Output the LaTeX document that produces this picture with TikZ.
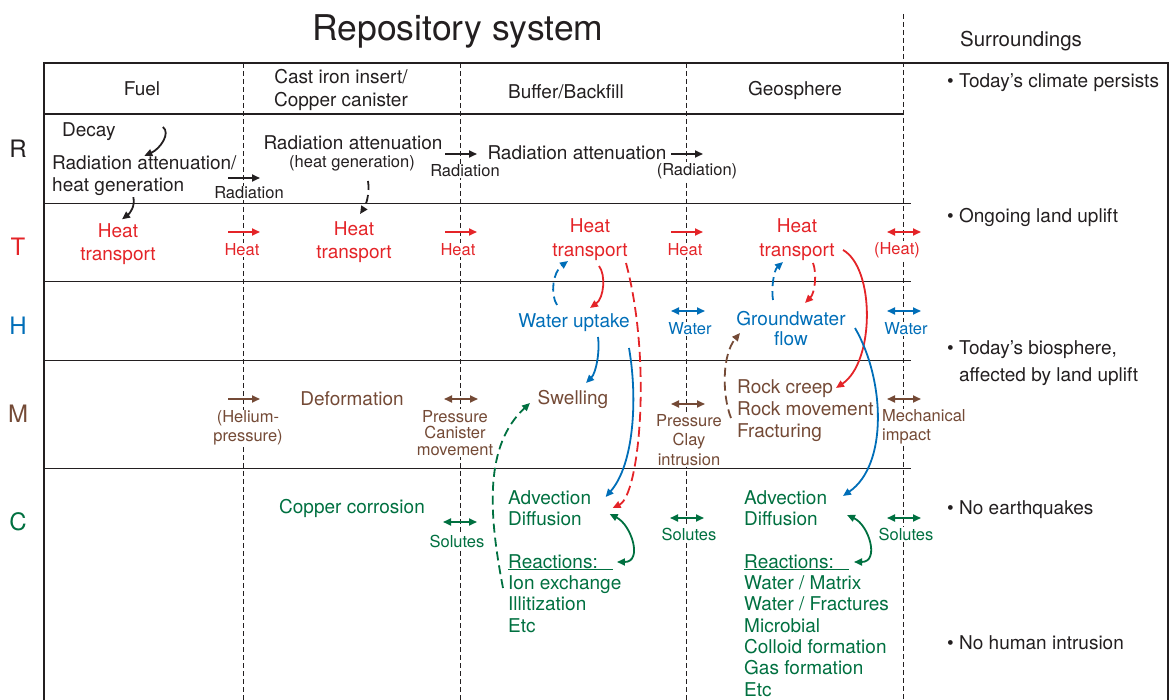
\documentclass[tikz,border=0pt]{standalone}
\usepackage{fontspec}
\setmainfont{TeX Gyre Heros}
\usetikzlibrary{arrows.meta,calc}

\definecolor{rot}{RGB}{228,36,40}
\definecolor{blau}{RGB}{0,110,184}
\definecolor{braun}{RGB}{116,74,54}
\definecolor{gruen}{RGB}{0,112,64}
\definecolor{tinte}{RGB}{35,31,32}

\tikzset{
  txt/.style={inner sep=0pt,align=center,font=\fontsize{19}{22}\selectfont},
  klein/.style={inner sep=1pt,fill=white,align=center,font=\fontsize{16.5}{17}\selectfont},
  zeile/.style={inner sep=0pt,font=\fontsize{24}{24}\selectfont},
  pf/.style={line width=1.8pt},
  gestr/.style={line width=1.8pt,dash pattern=on 9pt off 5pt},
  strich/.style={line width=.8pt,dash pattern=on 5pt off 3pt},
}

\begin{document}
\begin{tikzpicture}[x=1pt,y=-1pt,color=tinte,>={Triangle[length=8pt,width=7pt]}]
  \useasboundingbox (0,0) rectangle (1171,700);
  % Rahmen
  \draw[line width=1.8pt] (44,700) -- (44,63) -- (1168,63) -- (1168,700);
  \draw[line width=1.8pt] (44,114) -- (903,114);
  \foreach \y in {204,282,361,469} \draw[line width=1pt] (44,\y) -- (911,\y);
  % Spaltengrenzen
  \foreach \x in {243,460,686} \draw[strich] (\x,63) -- (\x,700);
  \draw[strich] (903,14) -- (903,700);
  % Titel
  \node[font=\fontsize{35.5}{35.5}\selectfont,inner sep=0pt] (titel) at (458,31) {Repository system};
  \node[font=\fontsize{20.5}{20.5}\selectfont,inner sep=0pt] (umgebung) at (1021,41) {Surroundings};
  % Kopfzeile
  \node[txt] (fuel) at (142,89) {Fuel};
  \node[txt,font=\fontsize{19}{23}\selectfont] (insert) at (341,90) {Cast iron insert/\\Copper canister};
  \node[txt] (buffer) at (566,92) {Buffer/Backfill};
  \node[txt] (geo) at (795,90) {Geosphere};
  % Zeilen
  \node[zeile] (R) at (18,149) {R};
  \node[zeile,rot] (T) at (18,247) {T};
  \node[zeile,blau] (H) at (18,326) {H};
  \node[zeile,braun] (M) at (18,414) {M};
  \node[zeile,gruen] (C) at (18,522) {C};

  % R
  \node[txt,anchor=west] (decay) at (62,132) {Decay};
  \node[txt,anchor=west,align=left] (strfuel) at (52,176) {Radiation attenuation/\\heat generation};
  \node[txt] (strins) at (353,143) {Radiation attenuation};
  \node[klein] (waerme) at (352,163) {(heat generation)};
  \node[txt] (strbuf) at (577,153) {Radiation attenuation};
  % T
  \node[txt,rot,font=\fontsize{19}{23}\selectfont] (ht1) at (118,244) {Heat\\transport};
  \node[txt,rot,font=\fontsize{19}{23.5}\selectfont] (ht2) at (354,242) {Heat\\transport};
  \node[txt,rot,font=\fontsize{19}{24}\selectfont] (ht3) at (590,240) {Heat\\transport};
  \node[txt,rot,font=\fontsize{19}{24}\selectfont] (ht4) at (797,240) {Heat\\transport};
  % H
  \node[txt,blau] (wasser) at (574,323) {Water uptake};
  \node[txt,blau,font=\fontsize{19}{20}\selectfont] (gw) at (791,329) {Groundwater\\flow};
  % M
  \node[txt,braun] (deform) at (352,399) {Deformation};
  \node[txt,braun] (swell) at (573,399) {Swelling};
  \node[txt,braun,anchor=west,align=left] (rock) at (737,411) {Rock creep\\Rock movement\\Fracturing};
  % C
  \node[txt,gruen] (corr) at (352,508) {Copper corrosion};
  \node[txt,gruen,anchor=west,align=left,font=\fontsize{19}{21.3}\selectfont] (adv3) at (508,508) {Advection\\Diffusion};
  \node[txt,gruen,anchor=west] (rea3) at (508,562) {Reactions:};
  \node[txt,gruen,anchor=west,align=left,font=\fontsize{19}{21.4}\selectfont] (lst3) at (508,604) {Ion exchange\\Illitization\\Etc};
  \node[txt,gruen,anchor=west,align=left,font=\fontsize{19}{21.3}\selectfont] (adv4) at (744,508) {Advection\\Diffusion};
  \node[txt,gruen,anchor=west] (rea4) at (744,562) {Reactions:};
  \node[txt,gruen,anchor=west,align=left,font=\fontsize{19}{21.4}\selectfont] (lst4) at (744,636) {Water / Matrix\\Water / Fractures\\Microbial\\Colloid formation\\Gas formation\\Etc};
  \draw[gruen,line width=1pt] ($(rea3.base west)+(0,1)$) -- ++(105,0);
  \draw[gruen,line width=1pt] ($(rea4.base west)+(0,1)$) -- ++(105,0);
  % Umgebung
  \node[txt,anchor=west,align=left] (u1) at (947,83) {\textbullet\ Today's climate persists};
  \node[txt,anchor=west,align=left] (u2) at (947,217) {\textbullet\ Ongoing land uplift};
  \node[txt,anchor=west,align=left,font=\fontsize{19}{27}\selectfont] (u3) at (947,363) {\textbullet\ Today's biosphere,\\\phantom{\textbullet\ }affected by land uplift};
  \node[txt,anchor=west,align=left] (u4) at (947,510) {\textbullet\ No earthquakes};
  \node[txt,anchor=west,align=left] (u5) at (947,643) {\textbullet\ No human intrusion};

  % Pfeile zwischen den Spalten
  \foreach \n/\x/\y/\c in {a1/244/178/tinte,a2/461/154/tinte,a3/687/154/tinte,a4/244/232/rot,a5/461/232/rot,a6/687/232/rot,a7/244/399/braun}
  {
    \coordinate (\n-l) at (\x-16,\y);
    \coordinate (\n-r) at (\x+16,\y);
    \draw[pf,->,color=\c] (\n-l) -- (\n-r);
  }
  \foreach \n/\x/\y/\c in {b1/904/232/rot,b2/688/311/blau,b3/904/311/blau,b4/461/399/braun,b5/688/404/braun,b6/904/399/braun,b7/460/522/gruen,b8/687/518/gruen,b9/904/518/gruen}
  {
    \coordinate (\n-l) at (\x-17,\y);
    \coordinate (\n-r) at (\x+17,\y);
    \draw[pf,<->,color=\c] (\n-l) -- (\n-r);
  }
  \node[klein] (lrad1) at (249,193) {Radiation};
  \node[klein] (lrad2) at (465,171) {Radiation};
  \node[klein] (lrad3) at (697,171) {(Radiation)};
  \node[klein,text=rot] (lheat1) at (242,250) {Heat};
  \node[klein,text=rot] (lheat2) at (458,250) {Heat};
  \node[klein,text=rot] (lheat3) at (685,250) {Heat};
  \node[klein,text=rot] (lheat4) at (897,250) {(Heat)};
  \node[klein,text=blau] (lwat1) at (690,329) {Water};
  \node[klein,text=blau] (lwat2) at (906,329) {Water};
  \node[klein,text=braun,font=\fontsize{16.5}{19}\selectfont] (lhel) at (248,428) {(Helium-\\pressure)};
  \node[klein,text=braun,font=\fontsize{16.5}{16.5}\selectfont] (lcan) at (455,433) {Pressure\\Canister\\movement};
  \node[klein,text=braun,font=\fontsize{16.5}{19.5}\selectfont] (lclay) at (689,440) {Pressure\\Clay\\intrusion};
  \node[klein,text=braun,anchor=west,align=left,font=\fontsize{16.5}{19}\selectfont] (lmech) at (881,427) {Mechanical\\impact};
  \node[klein,text=gruen] (lsol1) at (457,541) {Solutes};
  \node[klein,text=gruen] (lsol2) at (689,534) {Solutes};
  \node[klein,text=gruen] (lsol3) at (906,534) {Solutes};

  % Kopplungen Fuel/Insert
  \draw[pf,->] ($(decay)+(74,-5)$) .. controls +(8,6) and +(16,-7) .. (strfuel.north);
  \draw[pf,->] ($(strfuel.south)+(-11,1)$) .. controls +(2,9) and +(8,-6) .. ($(ht1.north)+(4,-4)$);
  \draw[gestr,->] ($(waerme)+(16,18)$) .. controls +(2,12) and +(6,-9) .. ($(ht2.north)+(6,-7)$);
  % Kopplungen Buffer
  \draw[gestr,blau,->] ($(wasser)+(-17,-18)$) .. controls +(-7,-11) and +(-15,11) .. ($(ht3)+(-22,21)$);
  \draw[pf,rot,->] ($(ht3)+(9,26)$) .. controls +(7,9) and +(14,-10) .. ($(wasser)+(16,-15)$);
  \draw[pf,blau,->] ($(wasser)+(24,14)$) .. controls +(2,15) and +(10,-10) .. ($(swell)+(13,-16)$);
  \draw[gestr,rot,dash pattern=on 10pt off 5pt,->] ($(ht3)+(36,23)$) .. controls +(26,97) and +(27,-13) .. ($(adv3)+(63,0)$);
  \draw[pf,blau,->] ($(wasser)+(55,25)$) .. controls +(9,52) and +(28,-32) .. ($(adv3)+(56,-11)$);
  \draw[pf,gruen,<->] ($(adv3)+(60,6)$) .. controls +(22,11) and +(26,0) .. ($(rea3)+(64,0)$);
  \draw[gestr,gruen,->] ($(lst3.west)+(-5,-16)$) .. controls +(-15,-78) and +(-45,42) .. ($(swell)+(-43,4)$);
  % Kopplungen Geosphere
  \draw[gestr,blau,->] ($(gw)+(-18,-29)$) .. controls +(-2,-12) and +(-9,8) .. ($(ht4)+(-14,22)$);
  \draw[gestr,rot,->] ($(ht4)+(16,23)$) .. controls +(4,10) and +(10,-10) .. ($(gw)+(14,-26)$);
  \draw[pf,rot,->] ($(ht4)+(46,10)$) .. controls +(32,18) and +(39,-26) .. ($(rock.west)+(99,-23)$);
  \draw[pf,blau,->] ($(gw)+(64,-1)$) .. controls +(30,52) and +(45,-31) .. ($(adv4.west)+(99,-12)$);
  \draw[pf,gruen,<->] ($(adv4.west)+(103,7)$) .. controls +(22,10) and +(26,0) .. ($(rea4.west)+(110,0)$);
  \draw[gestr,braun,->] ($(rock.west)+(-6,7)$) .. controls +(-9,-23) and +(-18,22) .. ($(gw)+(-51,4)$);
\end{tikzpicture}
\end{document}
